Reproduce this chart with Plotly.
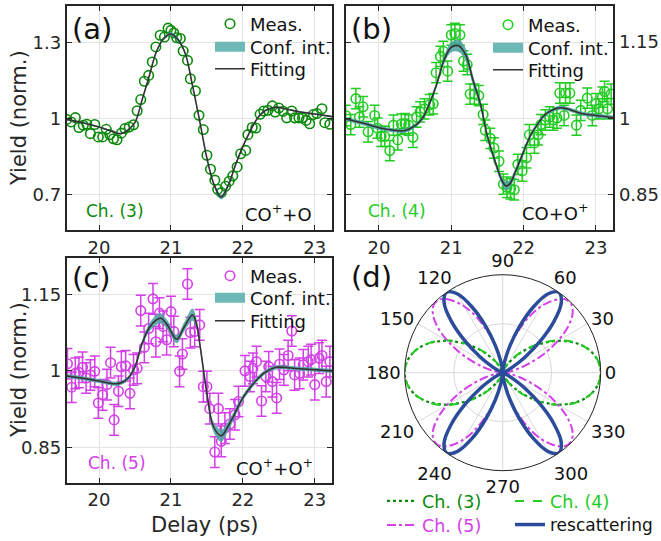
import plotly.graph_objects as go

W, H = 661, 541
def px(x): return x / W
def py(y): return 1 - y / H

FONT = "DejaVu Sans"
AX = "#262626"
GRID = "#e3e3e3"
CI = "rgba(75,160,160,0.85)"
CI_LEG = "rgb(110,184,184)"
FIT = "#333333"
G3 = "#0a8a0a"
G4 = "#22cc22"
MAG = "#d33fe8"
BLUE = "#2b4c9b"

# ---------------- data (a) Ch. (3) ----------------
xa = [19.55,19.61,19.67,19.72,19.78,19.83,19.88,19.94,19.99,20.05,20.10,20.15,20.20,20.25,20.31,20.36,20.42,20.48,20.53,20.58,
      20.63,20.69,20.74,20.79,20.85,20.91,20.96,21.00,21.04,21.08,21.13,21.17,21.23,21.27,21.34,21.39,21.45,21.50,21.55,21.61,
      21.65,21.70,21.76,21.81,21.86,21.92,21.97,22.04,22.07,22.13,22.18,22.24,22.29,22.35,22.41,22.45,22.50,22.56,22.61,22.68,
      22.72,22.78,22.83,22.88,22.93,22.98,23.03,23.10,23.14,23.21]
ya = [0.997,0.987,1.004,0.965,0.974,0.978,0.941,0.977,0.928,0.928,0.958,0.937,0.921,0.917,0.943,0.961,0.967,0.976,1.031,1.075,
      1.147,1.170,1.223,1.282,1.328,1.321,1.356,1.347,1.337,1.318,1.315,1.266,1.229,1.157,1.109,1.013,0.957,0.856,0.801,0.758,
      0.722,0.709,0.734,0.754,0.775,0.810,0.862,0.875,0.937,0.965,0.963,1.017,1.030,1.033,1.050,1.026,1.042,1.029,1.003,1.030,
      1.003,1.003,1.003,0.993,0.980,1.016,1.020,1.039,0.984,0.978]
fit_a_x = [19.55,19.8,20.0,20.2,20.3,20.4,20.5,20.6,20.7,20.8,20.9,21.0,21.1,21.2,21.3,21.4,21.5,21.6,21.7,21.8,21.9,22.0,22.1,22.2,22.3,22.45,22.6,22.8,23.0,23.24]
fit_a_y = [0.997,0.982,0.967,0.948,0.941,0.955,0.985,1.075,1.17,1.265,1.315,1.333,1.31,1.255,1.13,0.99,0.845,0.74,0.692,0.74,0.82,0.89,0.95,1.0,1.03,1.045,1.038,1.026,1.018,1.008]
ci_a = [0.003,0.003,0.003,0.003,0.003,0.003,0.004,0.004,0.005,0.005,0.006,0.008,0.008,0.006,0.005,0.005,0.006,0.008,0.01,0.008,0.006,0.005,0.004,0.004,0.003,0.003,0.003,0.003,0.003,0.003]

# ---------------- data (b) Ch. (4) ----------------
xb = [19.54,19.61,19.68,19.73,19.78,19.85,19.94,19.98,20.03,20.08,20.15,20.20,20.26,20.31,20.36,20.41,20.47,20.52,20.57,20.63,
      20.70,20.75,20.79,20.85,20.89,20.95,21.00,21.05,21.12,21.17,21.22,21.26,21.32,21.38,21.44,21.47,21.54,21.59,21.66,21.72,
      21.77,21.82,21.87,21.92,21.98,22.04,22.08,22.15,22.20,22.24,22.30,22.36,22.41,22.46,22.50,22.56,22.58,22.64,22.73,22.79,
      22.88,22.95,23.00,23.04,23.09,23.12,23.16,23.21]
yb = [1.006,0.988,1.039,1.003,1.023,0.974,1.006,0.981,0.965,0.965,0.937,0.987,0.958,0.989,0.990,0.987,0.963,1.003,1.013,1.019,
      1.027,1.029,1.090,1.122,1.132,1.093,1.164,1.167,1.164,1.113,1.106,1.048,1.048,1.045,1.008,0.977,0.961,0.942,0.916,0.871,
      0.865,0.862,0.860,0.910,0.897,0.923,0.968,0.952,0.968,0.988,0.997,1.003,0.997,1.001,1.050,1.006,1.050,1.050,0.987,1.016,
      1.040,1.006,1.029,1.019,1.042,1.053,1.019,1.048]
err_b = 0.02
fit_b_x = [19.55,19.8,20.0,20.2,20.35,20.5,20.6,20.7,20.8,20.9,21.0,21.1,21.2,21.3,21.4,21.5,21.6,21.7,21.75,21.8,21.9,22.0,22.1,22.2,22.3,22.5,22.6,22.8,23.0,23.24]
fit_b_y = [0.999,0.99,0.982,0.977,0.976,0.986,1.0,1.03,1.068,1.115,1.14,1.143,1.125,1.075,1.03,0.965,0.918,0.878,0.868,0.87,0.9,0.935,0.968,0.99,1.008,1.021,1.019,1.01,1.006,1.002]
ci_b = [0.004,0.004,0.004,0.004,0.004,0.004,0.004,0.005,0.006,0.008,0.01,0.012,0.012,0.01,0.008,0.007,0.007,0.008,0.009,0.008,0.007,0.006,0.005,0.004,0.004,0.004,0.004,0.004,0.004,0.004]

# ---------------- data (c) Ch. (5) ----------------
xc = [19.56,19.62,19.67,19.72,19.77,19.82,19.88,19.94,19.99,20.05,20.11,20.16,20.21,20.27,20.31,20.37,20.43,20.48,20.53,20.58,
      20.63,20.69,20.75,20.79,20.84,20.89,20.94,21.00,21.04,21.12,21.16,21.23,21.27,21.33,21.40,21.45,21.50,21.54,21.61,21.66,
      21.70,21.75,21.82,21.89,21.94,22.03,22.10,22.14,22.19,22.26,22.32,22.36,22.41,22.47,22.51,22.57,22.63,22.68,22.72,22.79,
      22.84,22.91,22.95,23.00,23.06,23.10,23.16,23.21]
yc = [1.014,0.968,0.995,0.997,1.007,0.986,0.992,0.999,0.937,0.953,0.973,1.016,0.904,0.960,1.008,1.010,0.956,1.002,1.005,1.118,
      1.046,1.083,1.141,1.057,1.113,1.087,1.061,1.116,1.077,0.999,1.033,1.170,1.075,1.077,1.090,0.969,0.969,0.926,0.841,0.926,
      0.862,0.888,0.896,0.914,0.940,1.000,0.989,1.005,1.018,0.941,0.989,1.008,0.979,0.947,1.013,1.002,1.030,1.078,0.992,0.995,
      1.012,1.018,1.022,0.973,1.025,1.030,0.979,1.018]
err_c = 0.03
fit_c_x = [19.55,19.8,20.0,20.27,20.4,20.5,20.6,20.7,20.8,20.86,20.95,21.08,21.18,21.3,21.35,21.4,21.5,21.59,21.7,21.8,21.87,22.0,22.19,22.33,22.47,22.79,23.24]
fit_c_y = [0.99,0.985,0.98,0.975,0.985,1.008,1.054,1.085,1.1,1.103,1.09,1.062,1.085,1.11,1.095,1.054,0.956,0.891,0.873,0.893,0.911,0.947,0.982,0.999,1.007,1.004,1.0]
ci_c = [0.004,0.004,0.004,0.004,0.004,0.005,0.006,0.008,0.01,0.01,0.009,0.008,0.009,0.012,0.01,0.008,0.008,0.01,0.012,0.01,0.008,0.006,0.005,0.004,0.004,0.004,0.004]

# ---------------- data (d) angular distributions ----------------
theta_deg = list(range(0, 365, 5))
r_ch3 = [1.0,0.99,0.96,0.91,0.84,0.75,0.65,0.54,0.43,0.33,0.24,0.16,0.10,0.06,0.03,0.015,0.005,0,0,
         0,0.005,0.015,0.03,0.06,0.10,0.16,0.24,0.33,0.43,0.54,0.65,0.75,0.84,0.91,0.96,0.99,1.0,
         0.99,0.96,0.91,0.84,0.75,0.65,0.54,0.43,0.33,0.24,0.16,0.10,0.06,0.03,0.015,0.005,0,0,
         0,0.005,0.015,0.03,0.06,0.10,0.16,0.24,0.33,0.43,0.54,0.65,0.75,0.84,0.91,0.96,0.99,1.0]
r_ch4 = [1.0,0.99,0.96,0.91,0.84,0.76,0.66,0.55,0.44,0.34,0.25,0.17,0.11,0.06,0.03,0.015,0.005,0,0,
         0,0.005,0.015,0.03,0.06,0.11,0.17,0.25,0.34,0.44,0.55,0.66,0.76,0.84,0.91,0.96,0.99,1.0,
         0.99,0.96,0.91,0.84,0.76,0.66,0.55,0.44,0.34,0.25,0.17,0.11,0.06,0.03,0.015,0.005,0,0,
         0,0.005,0.015,0.03,0.06,0.11,0.17,0.25,0.34,0.44,0.55,0.66,0.76,0.84,0.91,0.96,0.99,1.0]
r_ch5 = [0,0.02,0.08,0.18,0.31,0.48,0.65,0.81,0.93,0.99,0.98,0.90,0.78,0.62,0.44,0.29,0.15,0.06,0.0,
         0.06,0.15,0.29,0.44,0.62,0.78,0.90,0.98,0.99,0.93,0.81,0.65,0.48,0.31,0.18,0.08,0.02,0,
         0.02,0.08,0.18,0.31,0.48,0.65,0.81,0.93,0.99,0.98,0.90,0.78,0.62,0.44,0.29,0.15,0.06,0.0,
         0.06,0.15,0.29,0.44,0.62,0.78,0.90,0.98,0.99,0.93,0.81,0.65,0.48,0.31,0.18,0.08,0.02,0]
r_resc = [0,0,0,0,0,0.03,0.12,0.28,0.50,0.74,0.93,1.0,0.93,0.74,0.50,0.28,0.12,0.03,0,
          0.03,0.12,0.28,0.50,0.74,0.93,1.0,0.93,0.74,0.50,0.28,0.12,0.03,0,0,0,0,0,
          0,0,0,0,0.03,0.12,0.28,0.50,0.74,0.93,1.0,0.93,0.74,0.50,0.28,0.12,0.03,0,
          0.03,0.12,0.28,0.50,0.74,0.93,1.0,0.93,0.74,0.50,0.28,0.12,0.03,0,0,0,0,0]

fig = go.Figure()

def add_panel(xm, ym, err, fx, fy, ci, color, xax, yax, legs):
    lo = [a - b for a, b in zip(fy, ci)]
    hi = [a + b for a, b in zip(fy, ci)]
    ey = dict(type="constant", value=err, color=color, thickness=1.5, width=5) if err else None
    fig.add_trace(go.Scatter(x=xm, y=ym, mode="markers", name="Meas.",
                             marker=dict(symbol="circle-open", size=9.5, color=color, line=dict(width=1.6, color=color)),
                             error_y=ey, xaxis=xax, yaxis=yax, legend=legs[0]))
    fig.add_trace(go.Scatter(x=fx, y=lo, mode="lines", line=dict(width=0, shape="spline"),
                             showlegend=False, hoverinfo="skip", xaxis=xax, yaxis=yax))
    fig.add_trace(go.Scatter(x=fx, y=hi, mode="lines", line=dict(width=0, shape="spline"), fill="tonexty",
                             fillcolor=CI, showlegend=False, xaxis=xax, yaxis=yax))
    # legend entry for the confidence band (drawn as a thick swatch)
    fig.add_trace(go.Scatter(x=[None], y=[None], mode="lines", line=dict(width=13, color=CI_LEG),
                             name="Conf. int.", xaxis=xax, yaxis=yax, legend=legs[1]))
    fig.add_trace(go.Scatter(x=fx, y=fy, mode="lines", line=dict(width=1.6, color=FIT, shape="spline"),
                             name="Fitting", xaxis=xax, yaxis=yax, legend=legs[2]))

add_panel(xa, ya, None, fit_a_x, fit_a_y, ci_a, G3, "x", "y", ["legend", "legend2", "legend3"])
add_panel(xb, yb, err_b, fit_b_x, fit_b_y, ci_b, G4, "x2", "y2", ["legend4", "legend5", "legend6"])
add_panel(xc, yc, err_c, fit_c_x, fit_c_y, ci_c, MAG, "x3", "y3", ["legend7", "legend8", "legend9"])

polar_specs = [
    (r_ch3, f"<span style='color:{G3}'>Ch. (3)</span>", G3, "dot", 2.2, "legend10"),
    (r_ch4, f"<span style='color:{G4}'>Ch. (4)</span>", G4, "dash", 2.0, "legend11"),
    (r_ch5, f"<span style='color:{MAG}'>Ch. (5)</span>", MAG, "dashdot", 2.0, "legend12"),
    (r_resc, "rescattering", BLUE, "solid", 3.5, "legend13"),
]
for r, nm, col, dash, wd, lg in polar_specs:
    fig.add_trace(go.Scatterpolar(r=r, theta=theta_deg, mode="lines", name=nm,
                                  line=dict(color=col, dash=dash, width=wd, shape="spline"),
                                  subplot="polar", legend=lg))

tickfont = dict(family=FONT, size=18, color=AX)
axcommon = dict(showline=True, mirror="ticks", linecolor=AX, linewidth=2, ticks="inside", ticklen=5,
                tickcolor=AX, tickwidth=1, showgrid=True, gridcolor=GRID, gridwidth=1, zeroline=False,
                tickfont=tickfont)
xt = dict(tickvals=[20, 21, 22, 23], ticktext=["20", "21", "22", "23"])

def leg(x, y, size=18):
    return dict(x=px(x), y=py(y), xanchor="left", yanchor="middle", bgcolor="rgba(0,0,0,0)",
                traceorder="normal", font=dict(family=FONT, size=size, color="#111111"), borderwidth=0)

fig.update_layout(
    width=W, height=H, margin=dict(l=0, r=0, t=0, b=0, autoexpand=False),
    paper_bgcolor="white", plot_bgcolor="white",
    font=dict(family=FONT, color=AX),
    xaxis=dict(domain=[px(66.7), px(332)], range=[19.55, 23.24], anchor="y", **xt, **axcommon),
    yaxis=dict(domain=[py(230), py(6)], range=[0.562, 1.443], anchor="x",
               tickvals=[0.7, 1, 1.3], ticktext=["0.7", "1", "1.3"], **axcommon),
    xaxis2=dict(domain=[px(345.7), px(613.3)], range=[19.54, 23.24], anchor="y2", **xt, **axcommon),
    yaxis2=dict(domain=[py(230), py(6)], range=[0.781, 1.221], anchor="x2", side="right",
                tickvals=[0.85, 1, 1.15], ticktext=["0.85", "1", "1.15"], **axcommon),
    xaxis3=dict(domain=[px(66.7), px(332)], range=[19.55, 23.24], anchor="y3", **xt, **axcommon),
    yaxis3=dict(domain=[py(482.7), py(258)], range=[0.781, 1.221], anchor="x3",
                tickvals=[0.85, 1, 1.15], ticktext=["0.85", "1", "1.15"], **axcommon),
    polar=dict(
        domain=dict(x=[px(404.7), px(600.7)], y=[py(470.7), py(274.7)]),
        bgcolor="white",
        angularaxis=dict(direction="counterclockwise", rotation=0,
                         tickvals=list(range(0, 360, 30)), ticktext=[str(v) for v in range(0, 360, 30)],
                         showline=True, linecolor="#222222", linewidth=1, ticks="",
                         gridcolor="#d9d9d9", gridwidth=1, tickfont=dict(family=FONT, size=18, color="#111111")),
        radialaxis=dict(range=[0, 1], tickvals=[0.5], showticklabels=False, showline=False, ticks="",
                        gridcolor="#d9d9d9", gridwidth=1),
    ),
    legend=leg(210, 24), legend2=leg(210, 47), legend3=leg(210, 69),
    legend4=leg(488, 25), legend5=leg(488, 48), legend6=leg(488, 70),
    legend7=leg(210, 276), legend8=leg(210, 298), legend9=leg(210, 321),
    legend10=leg(382, 501, 17.5), legend11=leg(510, 501, 17.5),
    legend12=leg(382, 525, 17.5), legend13=leg(510, 525, 17),
    showlegend=True,
)

def ann(text, x, y, size, color="#111111", xanchor="center", angle=0):
    fig.add_annotation(text=text, x=px(x), y=py(y), xref="paper", yref="paper", showarrow=False,
                       xanchor=xanchor, yanchor="middle", textangle=angle,
                       font=dict(family=FONT, size=size, color=color))

ann("(a)", 92, 29, 29)
ann("(b)", 372, 29, 29)
ann("(c)", 91, 278, 29)
ann("(d)", 372, 277, 29)
ann("Ch. (3)", 84, 211, 17, G3, "left")
ann("CO<sup>+</sup>+O", 314, 213, 18, "#111111", "right")
ann("Ch. (4)", 366, 211, 17, G4, "left")
ann("CO+O<sup>+</sup>", 591, 212, 18, "#111111", "right")
ann("Ch. (5)", 86, 463, 17, MAG, "left")
ann("CO<sup>+</sup>+O<sup>+</sup>", 315, 467, 18, "#111111", "right")
ann("Yield (norm.)", 19, 118, 21, AX, "center", -90)
ann("Yield (norm.)", 19, 370, 21, AX, "center", -90)
ann("Delay (ps)", 205, 525, 21, AX, "center")

fig.write_html("out.html")
